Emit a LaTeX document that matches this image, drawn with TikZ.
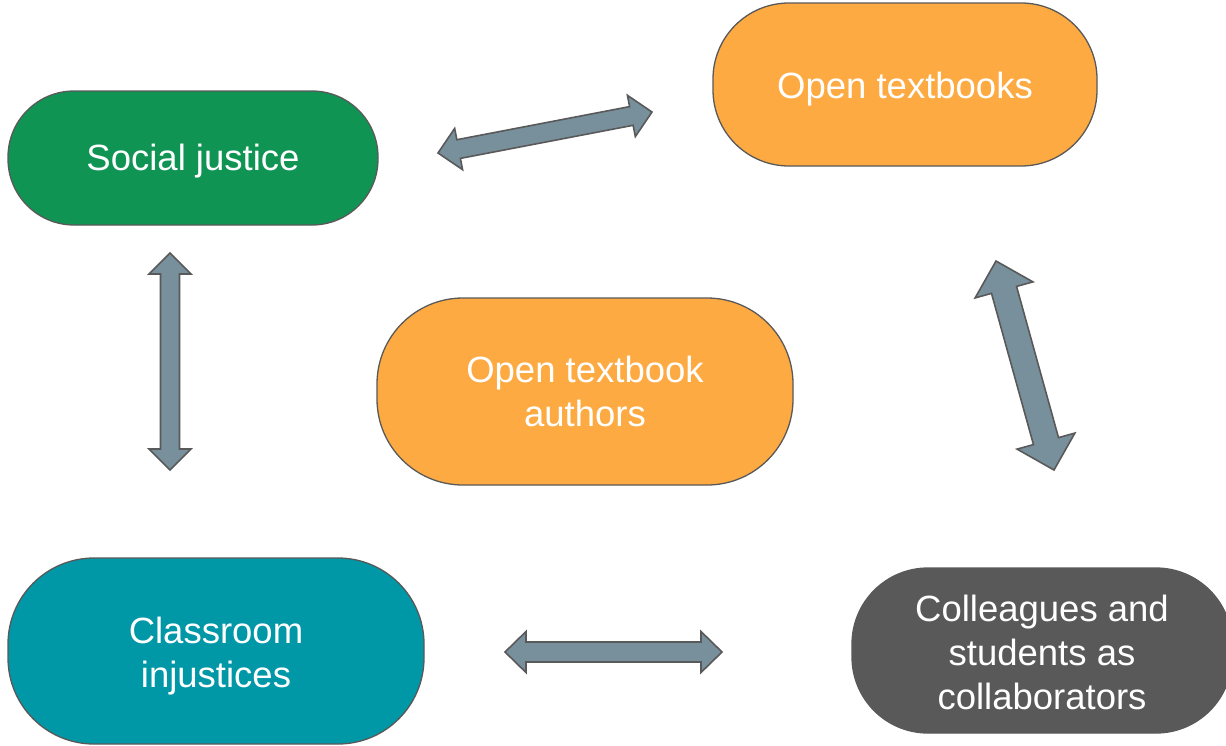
\documentclass[tikz,border=0pt]{standalone}
\usepackage{fontspec}
\setmainfont{Liberation Sans}
\usetikzlibrary{calc}
\definecolor{sjgreen}{HTML}{0F9453}
\definecolor{otorange}{HTML}{FDAA42}
\definecolor{citeal}{HTML}{0097A7}
\definecolor{colgray}{HTML}{595959}
\definecolor{arrfill}{HTML}{78909C}
\definecolor{edgegray}{HTML}{595959}
\tikzset{
  box/.style={draw=edgegray, line width=1.3pt, inner sep=0pt},
  txt/.style={text=white, align=center, inner sep=0pt,
    font=\fontsize{36.5}{44}\selectfont},
  blockarrow/.style={fill=arrfill, draw=edgegray, line width=1.6pt, line join=miter}
}
\newcommand{\blockarr}[5]{%
  \coordinate (HA) at ($(#1)!#5!(#2)$);
  \coordinate (HB) at ($(#2)!#5!(#1)$);
  \draw[blockarrow] (#1) -- ($(HA)!#4!90:(#2)$) -- ($(HA)!#3!90:(#2)$)
    -- ($(HB)!#3!-90:(#1)$) -- ($(HB)!#4!-90:(#1)$) -- (#2)
    -- ($(HB)!#4!90:(#1)$) -- ($(HB)!#3!90:(#1)$)
    -- ($(HA)!#3!-90:(#2)$) -- ($(HA)!#4!-90:(#2)$) -- cycle;
}
\begin{document}
\begin{tikzpicture}[x=1pt,y=-1pt]
\useasboundingbox (0,0) rectangle (1226,745);
\begin{scope}
\clip (0,0) rectangle (1226,745);
\node[box, fill=sjgreen, minimum width=370pt, minimum height=134pt, rounded corners=66pt,
  label={[txt, yshift=-3pt]center:Social justice}] (sj) at (193,158) {};
\node[box, fill=otorange, minimum width=384pt, minimum height=163pt, rounded corners=76pt,
  label={[txt, yshift=-5pt]center:Open textbooks}] (ot) at (905,84.5) {};
\node[box, fill=otorange, minimum width=416pt, minimum height=187pt, rounded corners=86pt,
  label={[txt]center:Open textbook\\authors}] (ota) at (585,391.5) {};
\node[box, fill=citeal, minimum width=416pt, minimum height=186pt, rounded corners=86pt,
  label={[txt, yshift=-5pt]center:Classroom\\injustices}] (ci) at (216,651) {};
\node[box, fill=colgray, minimum width=380pt, minimum height=165pt, rounded corners=76pt,
  label={[txt, yshift=-2pt]center:Colleagues and\\students as\\collaborators}] (col) at (1042,650.5) {};
\end{scope}
\coordinate (a1) at (438,153);
\coordinate (a2) at (652,112);
\coordinate (b1) at (170,253);
\coordinate (b2) at (170,470);
\coordinate (c1) at (996,261);
\coordinate (c2) at (1054,470);
\coordinate (d1) at (505,652);
\coordinate (d2) at (722,652);
\blockarr{a1}{a2}{9.5pt}{21pt}{21pt}
\blockarr{b1}{b2}{9.5pt}{21pt}{21pt}
\blockarr{c1}{c2}{13pt}{30pt}{30pt}
\blockarr{d1}{d2}{10pt}{20.5pt}{21pt}
\end{tikzpicture}
\end{document}
